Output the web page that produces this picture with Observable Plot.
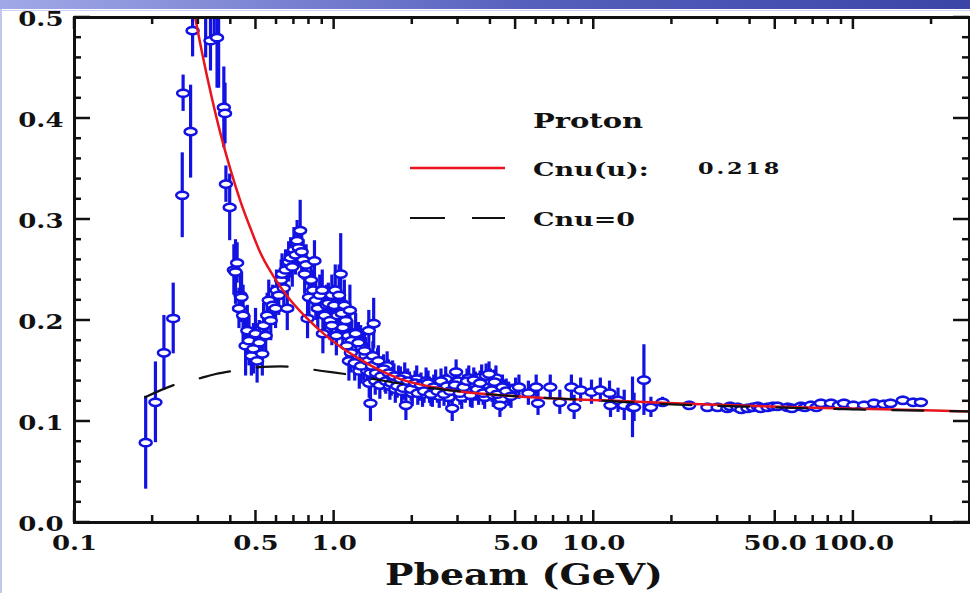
<!DOCTYPE html>
<html><head><meta charset="utf-8">
<script src="https://cdn.jsdelivr.net/npm/d3@7"></script>
<script src="https://cdn.jsdelivr.net/npm/@observablehq/plot@0.6"></script>
<style>
html,body{margin:0;padding:0;background:#fff;}
#wrap{position:relative;width:970px;height:593px;overflow:hidden;background:#fff;}
#bar{position:absolute;left:0;top:0;width:970px;height:9px;background:linear-gradient(to right,#a2a9e8,#5560bd 55%,#3b45a5);}
#bar2{position:absolute;left:0;top:10px;width:970px;height:1px;background:#cdd1f2;}
#lstrip{position:absolute;left:0;top:9px;width:2px;height:584px;background:#c3c7f0;}
#chart{position:absolute;left:0;top:0;width:970px;height:593px;}
#overlay{position:absolute;left:0;top:0;}
#overlay text{font-family:"DejaVu Serif",serif;font-weight:bold;fill:#111;}
</style></head>
<body>
<div id="wrap">
  <div id="bar"></div><div id="bar2"></div><div id="lstrip"></div>
  <svg id="overlay" width="970" height="593">
    <text transform="translate(533,128) scale(1.38,1)" font-size="21">Proton</text>
    <line x1="410" x2="505" y1="168" y2="168" stroke="#e8141e" stroke-width="2.5"/>
    <text transform="translate(533,176) scale(1.42,1)" font-size="19">Cnu(u):</text>
    <text transform="translate(698,174) scale(1.4,1)" font-size="16" letter-spacing="2">0.218</text>
    <line x1="410" x2="505" y1="218" y2="218" stroke="#111" stroke-width="2.2" stroke-dasharray="35,27"/>
    <text transform="translate(533,226) scale(1.42,1)" font-size="19">Cnu=0</text>
    <text transform="translate(524,585) scale(1.26,1)" font-size="30" text-anchor="middle">Pbeam (GeV)</text>
  </svg>
  <div id="chart"></div>
</div>
<script>
// ---- data: low momentum region ----
const lowP = [0.188,0.205,0.221,0.240,0.260,0.262,0.280,0.285,0.320,0.334,
              0.345,0.354,0.359,0.376,0.380,0.383,0.396,0.411,0.417,0.423,
              0.430,0.436];
const lowY = [0.079,0.119,0.168,0.202,0.324,0.425,0.387,0.487,0.530,0.477,
              0.520,0.480,0.550,0.411,0.405,0.335,0.312,0.250,0.248,0.257,
              0.212,0.225];
const lowE = [0.046,0.040,0.037,0.035,0.042,0.018,0.046,0.026,0.070,0.030,
              0.040,0.050,0.120,0.040,0.030,0.018,0.033,0.025,0.032,0.020,
              0.020,0.025];
// ---- resonance region ----
const resP = [0.440,0.446,0.456,0.463,0.470,0.480,0.489,0.498,0.505,0.515,
              0.529,0.535,0.545,0.552,0.560,0.570,0.580,0.595,0.600,0.612,
              0.625,0.630,0.640,0.650,0.660,0.668,0.680,0.690,0.700,0.710,
              0.720,0.730,0.740,0.750,0.760,0.770,0.780,0.790,0.800,0.815,
              0.830,0.840,0.850,0.865,0.880,0.900,0.905,0.920,0.935,0.950,
              0.965,0.980,1.000,1.010,1.030,1.045,1.060,1.070,1.080,1.095,
              1.110,1.130,1.140,1.150,1.170,1.190,1.210,1.230,1.250,1.265,
              1.280,1.300,1.320,1.340,1.360,1.365,1.380];
const resY = [0.223,0.205,0.175,0.190,0.180,0.165,0.172,0.187,0.160,0.178,
              0.167,0.195,0.185,0.205,0.220,0.200,0.215,0.212,0.230,0.225,
              0.240,0.246,0.232,0.250,0.212,0.258,0.262,0.253,0.270,0.265,
              0.279,0.272,0.289,0.268,0.260,0.246,0.255,0.202,0.223,0.240,
              0.230,0.259,0.220,0.212,0.225,0.230,0.187,0.205,0.215,0.217,
              0.200,0.225,0.215,0.230,0.205,0.225,0.246,0.207,0.193,0.215,
              0.200,0.185,0.160,0.210,0.180,0.172,0.187,0.165,0.150,0.175,
              0.173,0.158,0.165,0.150,0.190,0.138,0.118];
const resE = [0.025,0.030,0.030,0.025,0.025,0.020,0.025,0.025,0.022,0.022,
              0.022,0.022,0.020,0.022,0.020,0.020,0.020,0.020,0.020,0.020,
              0.020,0.020,0.020,0.020,0.022,0.020,0.020,0.020,0.022,0.020,
              0.020,0.020,0.030,0.020,0.020,0.020,0.020,0.020,0.020,0.020,
              0.020,0.020,0.020,0.020,0.020,0.020,0.020,0.020,0.020,0.020,
              0.020,0.020,0.020,0.025,0.020,0.030,0.040,0.020,0.020,0.025,
              0.020,0.020,0.020,0.025,0.020,0.020,0.020,0.018,0.018,0.020,
              0.018,0.018,0.018,0.015,0.020,0.015,0.018];
// ---- dense band 1 - 5 GeV ----
const bandP = [0.98,1.02,1.12,1.16,1.20,1.24,1.27,1.31,1.35,1.38,
               1.41,1.44,1.47,1.50,1.53,1.57,1.60,1.64,1.68,1.72,
               1.77,1.82,1.87,1.95,2.00,2.08,2.13,2.19,2.26,2.33,
               2.39,2.46,2.54,2.62,2.69,2.76,2.88,3.00,3.10,3.20,
               3.30,3.40,3.50,3.60,3.70,3.80,3.90,4.00,4.10,4.20,
               4.30,4.40,4.52,4.70];
const bandY = [0.195,0.185,0.175,0.168,0.158,0.178,0.155,0.170,0.160,0.148,
               0.165,0.140,0.158,0.136,0.150,0.143,0.155,0.135,0.146,0.132,
               0.142,0.130,0.145,0.136,0.128,0.142,0.133,0.127,0.140,0.131,
               0.126,0.139,0.125,0.133,0.142,0.124,0.132,0.140,0.124,0.130,
               0.143,0.125,0.137,0.128,0.144,0.124,0.136,0.140,0.126,0.143,
               0.131,0.122,0.129,0.127];
const bandE = [0.020,0.020,0.020,0.020,0.018,0.020,0.018,0.018,0.018,0.016,
               0.014,0.014,0.014,0.014,0.014,0.014,0.014,0.014,0.014,0.014,
               0.013,0.013,0.013,0.013,0.013,0.013,0.013,0.013,0.013,0.013,
               0.012,0.012,0.012,0.012,0.012,0.012,0.012,0.012,0.012,0.012,
               0.012,0.012,0.012,0.012,0.012,0.012,0.012,0.012,0.012,0.012,
               0.012,0.012,0.012,0.012];
// ---- intermediate region ----
const midP = [1.400,1.420,1.450,1.480,1.520,1.550,1.580,1.620,1.660,1.700,
              1.750,1.800,1.850,1.890,1.920,1.980,2.050,2.100,2.160,2.220,
              2.300,2.360,2.420,2.500,2.580,2.650,2.720,2.800,2.850,2.920,
              2.950,3.050,3.150,3.250,3.350,3.450,3.550,3.650,3.750,3.850,
              3.950,4.050,4.150,4.250,4.350,4.450,4.600,4.800,5.000,5.150,
              5.600,6.000,6.100,6.800,7.400,8.200,8.400,8.900,9.800,10.60,
              11.50,11.60,12.40,13.10,14.10,14.30,15.60,16.60,18.40];
const midY = [0.155,0.197,0.148,0.160,0.145,0.152,0.140,0.148,0.138,0.145,
              0.135,0.142,0.133,0.116,0.140,0.132,0.138,0.128,0.136,0.130,
              0.138,0.127,0.134,0.130,0.140,0.127,0.135,0.130,0.113,0.136,
              0.149,0.128,0.134,0.140,0.126,0.141,0.132,0.138,0.128,0.145,
              0.147,0.131,0.139,0.127,0.116,0.134,0.130,0.125,0.133,0.134,
              0.128,0.134,0.118,0.134,0.119,0.134,0.114,0.131,0.129,0.131,
              0.128,0.116,0.121,0.116,0.114,0.114,0.141,0.114,0.119];
const midE = [0.015,0.025,0.015,0.015,0.014,0.014,0.013,0.013,0.013,0.012,
              0.012,0.012,0.012,0.015,0.012,0.012,0.012,0.012,0.012,0.012,
              0.012,0.012,0.012,0.012,0.012,0.012,0.012,0.012,0.013,0.012,
              0.012,0.012,0.012,0.012,0.012,0.012,0.012,0.012,0.012,0.012,
              0.012,0.012,0.012,0.012,0.012,0.012,0.012,0.012,0.010,0.012,
              0.012,0.012,0.012,0.012,0.012,0.012,0.012,0.012,0.012,0.012,
              0.012,0.012,0.012,0.015,0.030,0.014,0.035,0.010,0.005];
// ---- high momentum region ----
const highP = [23.3,27.4,30.0,32.7,33.5,35.8,37.0,39.1,41.0,42.8,
               44.0,46.7,49.0,51.0,55.8,58.0,62.8,65.0,68.6,72.0,
               75.0,82.0,88.0,92.0,100,110,120,131,139,155,
               170,182];
const highY = [0.116,0.114,0.114,0.113,0.115,0.114,0.112,0.113,0.114,0.115,
               0.113,0.114,0.115,0.115,0.114,0.113,0.115,0.114,0.116,0.114,
               0.118,0.118,0.116,0.118,0.116,0.116,0.118,0.117,0.118,0.121,
               0.119,0.119];
const highE = [0.004,0.004,0.004,0.004,0.004,0.004,0.004,0.004,0.004,0.004,
               0.004,0.004,0.004,0.004,0.004,0.004,0.004,0.004,0.004,0.004,
               0.004,0.004,0.004,0.004,0.004,0.004,0.004,0.004,0.004,0.004,
               0.004,0.004];
// ---- fit curves ----
const fitP = [0.280,0.288,0.310,0.339,0.365,0.387,0.417,0.437,0.480,0.520,0.580,0.660,0.780,0.920,
              1.07,1.25,1.44,1.80,2.30,2.80,4.40,6.80,13.4,25.8,84.0,205,280];
const fitCnu = [0.526,0.508,0.465,0.419,0.385,0.361,0.333,0.317,0.289,0.267,0.245,0.224,0.203,0.186,
                0.173,0.162,0.153,0.142,0.135,0.131,0.126,0.123,0.120,0.117,0.113,0.111,0.110];
const zeroP = [0.187,0.241,0.306,0.350,0.405,0.530,0.620,0.700,0.900,1.17,1.50,2.20,3.00,4.40,6.80,10.0,20.0,50.0,100,280];
const zeroCnu = [0.124,0.136,0.143,0.147,0.150,0.154,0.1545,0.154,0.150,0.146,0.141,0.134,0.130,0.126,0.123,0.121,0.117,0.114,0.112,0.110];
// ---- ticks ----
const xTickValues = [0.1,0.5,1,5,10,50,100];
const xTickLabels = ["0.1","0.5","1.0","5.0","10.0","50.0","100.0"];
const xMinor = [0.2,0.3,0.4,0.6,0.7,0.8,0.9,2,3,4,6,7,8,9,20,30,40,60,70,80,90,200];
const yTickValues = [0,0.1,0.2,0.3,0.4,0.5];
const yMinor = [0.02,0.04,0.06,0.08,0.12,0.14,0.16,0.18,0.22,0.24,0.26,0.28,0.32,0.34,0.36,0.38,0.42,0.44,0.46,0.48];

const P = [...lowP, ...resP, ...bandP, ...midP, ...highP];
const Y = [...lowY, ...resY, ...bandY, ...midY, ...highY];
const E = [...lowE, ...resE, ...bandE, ...midE, ...highE];
const points = P.map((p, i) => ({p, y: Y[i], e: E[i]}));
const fitRows = fitP.map((p, i) => ({p, y: fitCnu[i]}));
const zeroRows = zeroP.map((p, i) => ({p, y: zeroCnu[i]}));

const W = 970, H = 593, ML = 74, MR = 1, MT = 17, MB = 71;
const xDomain = [0.1, 280], yDomain = [0, 0.5];

const blue = "#1212e2";
const ellipse = {
  draw(ctx, size) {
    const a = Math.sqrt(size / Math.PI), b = a * 0.6, k = 0.5523;
    ctx.moveTo(a, 0);
    ctx.bezierCurveTo(a, b * k, a * k, b, 0, b);
    ctx.bezierCurveTo(-a * k, b, -a, b * k, -a, 0);
    ctx.bezierCurveTo(-a, -b * k, -a * k, -b, 0, -b);
    ctx.bezierCurveTo(a * k, -b, a, -b * k, a, 0);
    ctx.closePath();
  }
};

const chart = Plot.plot({
  width: W, height: H,
  marginLeft: ML, marginRight: MR, marginTop: MT, marginBottom: MB,
  style: {background: "transparent", fontFamily: "DejaVu Serif", fontSize: "20px", fontWeight: "bold", color: "#111"},
  x: {type: "log", domain: xDomain, axis: null},
  y: {domain: yDomain, axis: null},
  marks: [
    Plot.ruleX(points, {x: "p", y1: d => d.y - d.e, y2: d => d.y + d.e, stroke: blue, strokeWidth: 3.2, clip: true}),
    Plot.dot(points, {x: "p", y: "y", r: 6, symbol: ellipse, stroke: blue, fill: "white", strokeWidth: 2.5, clip: true}),
    Plot.line(fitRows, {x: "p", y: "y", stroke: "#e8141e", strokeWidth: 2.5, curve: "monotone-x", clip: true}),
    Plot.line(zeroRows, {x: "p", y: "y", stroke: "#111", strokeWidth: 2.2, strokeDasharray: "31,27", curve: "monotone-x", clip: true}),
    Plot.frame({stroke: "#111", strokeWidth: 3}),
    Plot.text(xTickValues, {x: d => d, text: d => xTickLabels[xTickValues.indexOf(d)], frameAnchor: "bottom", lineAnchor: "top", dy: 13, fill: "#111"}),
    Plot.text(yTickValues, {y: d => d, text: d => d3.format(".1f")(d), frameAnchor: "left", textAnchor: "end", dx: -11, dy: 2, fill: "#111"})
  ]
});
chart.querySelectorAll("text").forEach(t => {
  const tr = t.getAttribute("transform");
  if (tr && t.textContent) t.setAttribute("transform", tr + " scale(1.3,1)");
});

// inward tick marks on all four sides, positioned with the plot's own scales
const sx = chart.scale("x"), sy = chart.scale("y");
const x0 = sx.apply(xDomain[0]), x1 = sx.apply(xDomain[1]);
const y0 = sy.apply(yDomain[0]), y1 = sy.apply(yDomain[1]);
const tg = d3.select(chart).append("g").attr("stroke", "#111").attr("stroke-width", 2.5);
function xt(vals, len) {
  vals.forEach(v => {
    const px = sx.apply(v);
    tg.append("line").attr("x1", px).attr("x2", px).attr("y1", y0).attr("y2", y0 - len);
    tg.append("line").attr("x1", px).attr("x2", px).attr("y1", y1).attr("y2", y1 + len);
  });
}
function yt(vals, len) {
  vals.forEach(v => {
    const py = sy.apply(v);
    tg.append("line").attr("y1", py).attr("y2", py).attr("x1", x0).attr("x2", x0 + len);
    tg.append("line").attr("y1", py).attr("y2", py).attr("x1", x1).attr("x2", x1 - len);
  });
}
xt(xTickValues, 12); xt(xMinor, 7);
yt(yTickValues, 16); yt(yMinor, 7);

document.getElementById("chart").appendChild(chart);
</script>
</body></html>
